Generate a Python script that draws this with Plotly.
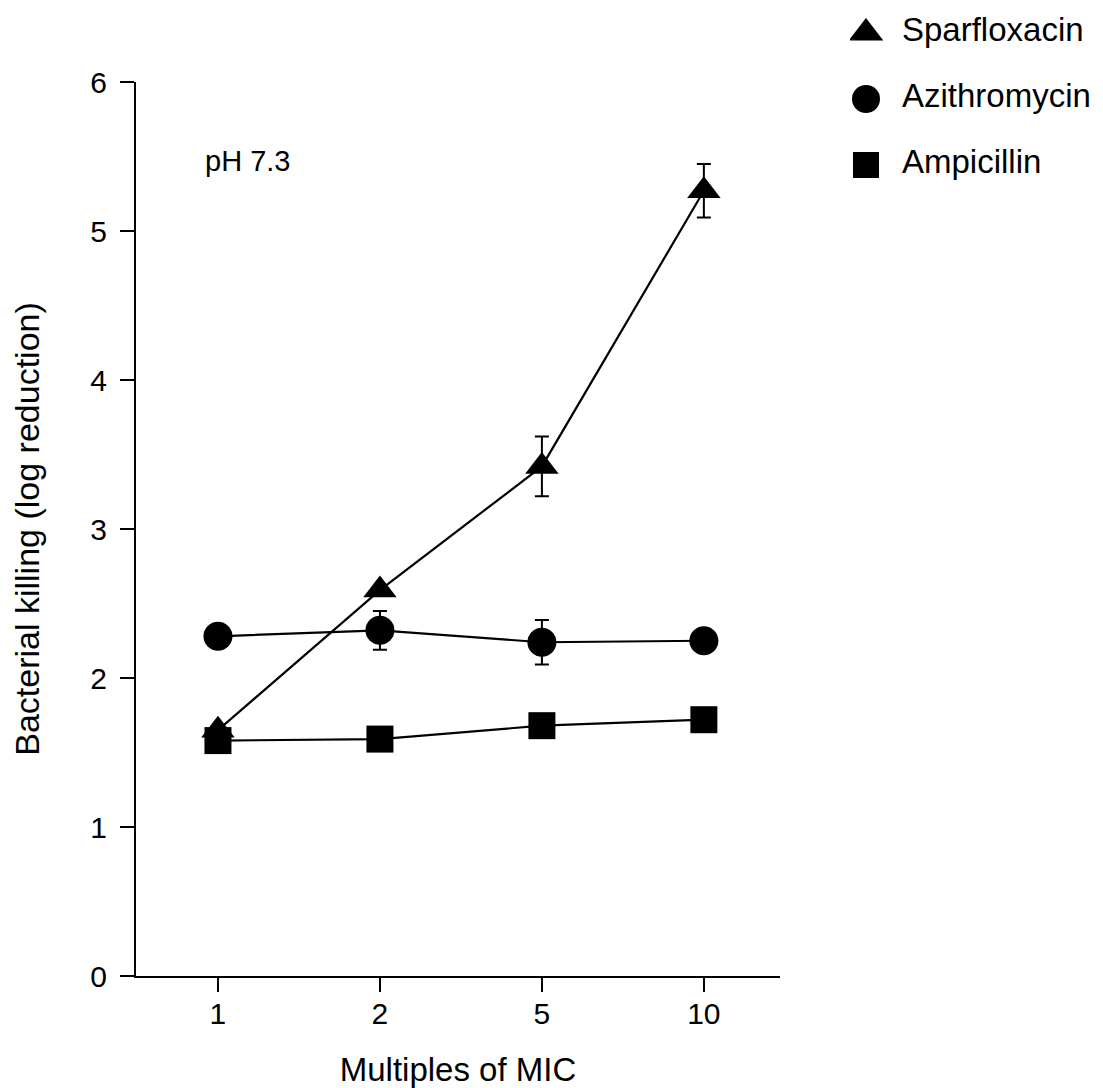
import plotly.graph_objects as go

# Data
mic_multiples = ["1", "2", "5", "10"]
series_names = ["Sparfloxacin", "Azithromycin", "Ampicillin"]
sparfloxacin = [1.65, 2.59, 3.42, 5.27]
sparfloxacin_err = [0, 0, 0.20, 0.18]
azithromycin = [2.28, 2.32, 2.24, 2.25]
azithromycin_err = [0, 0.13, 0.15, 0]
ampicillin = [1.58, 1.59, 1.68, 1.72]
ampicillin_err = [0, 0, 0, 0]
y_ticks = [0, 1, 2, 3, 4, 5, 6]

FONT = "Liberation Sans, Arial, Helvetica, sans-serif"
# page body adds an 8px margin, so the figure is a little smaller
OFF = 8
W, H = 1103 - OFF, 1088 - OFF

symbols = ["triangle-up", "circle", "square"]
sizes = [29, 29, 27]
key_sizes = [30, 28, 26]
values = [sparfloxacin, azithromycin, ampicillin]
errors = [sparfloxacin_err, azithromycin_err, ampicillin_err]

fig = go.Figure()
for i, name in enumerate(series_names):
    fig.add_trace(go.Scatter(
        x=mic_multiples,
        y=values[i],
        name=name,
        mode="lines+markers",
        line=dict(color="black", width=2.2),
        marker=dict(symbol=symbols[i], size=sizes[i], color="black", opacity=1,
                    line=dict(width=0, color="black")),
        error_y=dict(type="data", array=errors[i], visible=True,
                     color="black", thickness=2, width=7),
        showlegend=False,
        xaxis="x", yaxis="y",
    ))

# Key drawn on its own small axes (pixel-unit ranges) so symbols keep full size
fig.add_trace(go.Scatter(
    x=[0] * len(series_names), y=series_names,
    mode="markers",
    marker=dict(symbol=symbols, size=key_sizes, color="#000000", opacity=1,
                line=dict(width=0, color="#000000")),
    showlegend=False, hoverinfo="skip",
    xaxis="x2", yaxis="y2",
))
fig.add_trace(go.Scatter(
    x=[36] * len(series_names), y=series_names,
    mode="text", text=series_names, textposition="middle right",
    textfont=dict(family=FONT, size=33, color="black"),
    showlegend=False, hoverinfo="skip",
    xaxis="x2", yaxis="y2",
))

# pixel geometry of plot area (figure coordinates)
L, R, T, B = 136 - OFF, 780 - OFF, 82 - OFF, 976 - OFF
KX0 = 850 - OFF            # key area left
KMARK = 866 - OFF          # key symbol centre
KROW0, KSTEP = 33 - OFF, 66
KBOT = KROW0 + 2.5 * KSTEP + KSTEP / 2

fig.update_layout(
    width=W, height=H, autosize=False,
    margin=dict(l=0, r=0, t=0, b=0),
    paper_bgcolor="white", plot_bgcolor="white",
    font=dict(family=FONT, color="black", size=28),
    showlegend=False,
    xaxis=dict(
        domain=[L / W, R / W], anchor="y",
        type="category", categoryorder="array", categoryarray=mic_multiples,
        range=[-0.506, 3.47],
        showline=True, linecolor="black", linewidth=2,
        ticks="outside", ticklen=14, tickwidth=2, tickcolor="black",
        showgrid=False, zeroline=False, automargin=False,
        tickfont=dict(family=FONT, size=30, color="black"),
        ticklabelstandoff=-4,
        title=dict(text="Multiples of MIC", font=dict(family=FONT, size=33, color="black"), standoff=29),
    ),
    yaxis=dict(
        domain=[(H - B) / H, (H - T) / H], anchor="x",
        range=[0, 6], tickvals=y_ticks,
        showline=True, linecolor="black", linewidth=2,
        ticks="outside", ticklen=14, tickwidth=2, tickcolor="black",
        showgrid=False, zeroline=False, automargin=False,
        tickfont=dict(family=FONT, size=30, color="black"),
        ticklabelstandoff=7,
        title=dict(text="Bacterial killing (log reduction)", font=dict(family=FONT, size=34, color="black"), standoff=40),
    ),
    xaxis2=dict(
        domain=[KX0 / W, 1.0], anchor="y2",
        range=[KX0 - KMARK, W - KMARK],
        visible=False, showgrid=False, zeroline=False,
    ),
    yaxis2=dict(
        domain=[(H - KBOT) / H, 1.0], anchor="x2",
        type="category", categoryorder="array", categoryarray=series_names,
        range=[(KBOT - KROW0) / KSTEP, -KROW0 / KSTEP],
        visible=False, showgrid=False, zeroline=False,
    ),
    annotations=[dict(
        text="pH 7.3", xref="paper", yref="paper",
        x=(203 - OFF) / W, y=1 - (161 - OFF) / H, xanchor="left", yanchor="middle",
        showarrow=False, font=dict(family=FONT, size=29, color="black"),
    )],
)

fig.write_html("out.html")
